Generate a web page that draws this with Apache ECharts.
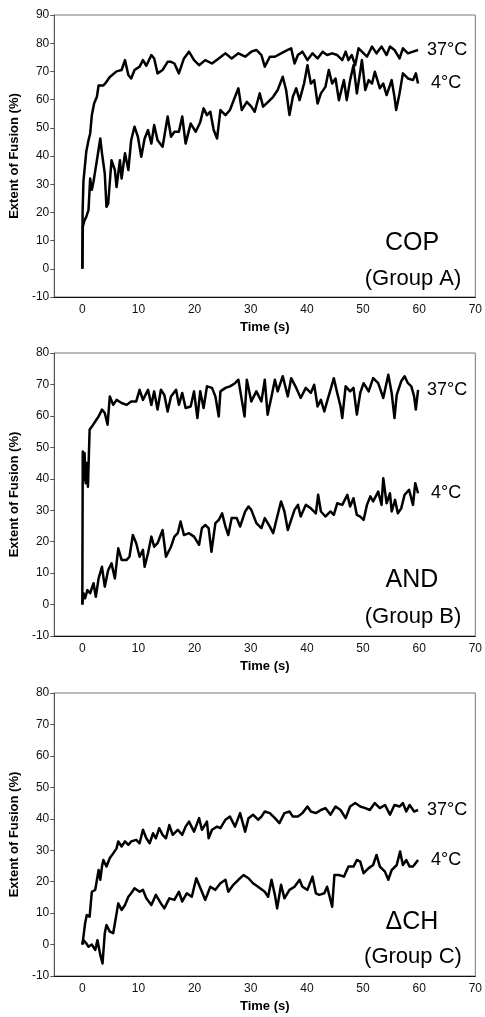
<!DOCTYPE html>
<html>
<head>
<meta charset="utf-8">
<script src="https://cdn.jsdelivr.net/npm/echarts@6/dist/echarts.min.js"></script>
<style>
html,body{margin:0;padding:0;background:#fff;}
#c{width:485px;height:1017px;}
</style>
</head>
<body>
<div id="c"></div>
<script>
// ---- Data: [time (s), extent of fusion (%)] ----
const cop37 = [[0,0],[0.05,20],[0.2,31],[0.7,41.5],[1.1,45.6],[1.4,48],[1.7,54.5],[2.1,58.6],[2.6,61],[2.9,65],[3.75,65],[4.3,66.3],[4.9,68],[6.1,70],[7,70.5],[7.6,74],[8.2,68.7],[8.7,67.5],[9.3,70.5],[10.2,71.7],[10.8,74],[11.4,72],[12.3,75.8],[12.8,74.6],[13.4,69.3],[14.3,70.5],[15.2,73.4],[15.8,73.4],[16.4,72.8],[17.2,69.3],[18.1,74.6],[19,77],[19.9,74],[20.8,72.2],[21.9,74],[23.1,72.8],[24.3,74.6],[25.5,76.4],[26.6,74.6],[27.8,76.4],[29,75.2],[30.1,77],[31,77.6],[31.9,75.8],[32.5,71.7],[33.4,75.2],[34.3,75.2],[35.4,76.4],[36.6,77.6],[37.2,78.2],[37.8,72.8],[38.4,75.8],[39.2,77],[40.1,74],[41,76.4],[41.9,74.6],[42.8,77],[43.6,75.8],[44.5,76.4],[45.4,75.8],[46.3,74],[46.9,77],[47.4,74],[48,75.8],[48.6,72.2],[49.2,78.2],[49.8,77],[50.7,75.2],[51.6,78.8],[52.4,76.4],[53.3,78.8],[54.2,75.8],[54.8,78.8],[55.6,77.6],[56.5,74.6],[57.1,78.2],[58,76.4],[58.9,77],[59.8,77.6]];
const cop4 = [[0,0],[0.1,15],[0.35,17],[0.7,18.4],[1.1,20.8],[1.4,32],[1.7,28],[2,31],[2.6,38.5],[3.2,46.2],[3.5,41],[4,33.8],[4.3,22],[4.6,23],[5.2,38.5],[5.8,35],[6.1,29],[6.7,38.5],[7,32],[7.6,41],[8.2,35],[8.7,45.6],[9.3,50.4],[9.9,46.8],[10.5,39.7],[11.1,46.2],[11.7,49.2],[12.3,44.4],[12.8,51],[13.4,45.6],[14.3,43.3],[15.2,54],[15.8,46.8],[16.4,48.6],[17.2,48.6],[17.8,54],[18.4,44.4],[19.3,51.5],[20.2,48.6],[21,52],[21.6,56.9],[22.2,54.5],[22.8,55.7],[23.4,49.2],[24,46.2],[24.6,56.3],[25.5,54.5],[26.3,56.3],[27.2,61],[27.8,64],[28.4,56.3],[29.3,59.2],[30.1,57.5],[30.7,55.7],[31.6,62.2],[32.2,57.5],[33.1,59.2],[34,61],[34.8,63.4],[35.7,68.1],[36.3,63.4],[36.9,54.5],[37.5,61],[38.1,64],[38.7,59.8],[39.5,65.7],[40.1,72.2],[40.7,65.7],[41.3,66.9],[41.9,58.6],[42.5,62.2],[43.3,64.5],[43.9,70.5],[44.5,65.7],[45.1,67.5],[45.7,59.8],[46.6,66.9],[47.1,59.8],[47.7,66.9],[48.3,72.2],[48.9,62.2],[49.5,69.9],[49.8,74],[50.4,63.4],[51,66.9],[51.6,65.7],[52.1,69.9],[53,64],[53.6,65.7],[54.2,61.6],[55.1,66.9],[55.6,60.9],[55.9,56.3],[56.5,62.2],[57.1,69.3],[58,67.5],[58.9,66.9],[59.4,69.3],[59.8,65.7]];
const and37 = [[0,0],[0.08,48.7],[0.2,39.7],[0.4,48.2],[0.6,38.6],[0.8,45],[1,37.5],[1.3,55.6],[1.7,56.6],[2.3,58.2],[2.9,59.8],[3.5,62],[4,60.9],[4.5,57.2],[4.9,66.2],[5.5,63.5],[6.1,65.1],[7,64.1],[7.9,63.5],[8.7,64.6],[9.6,64.6],[10.2,68.3],[10.8,65.1],[11.7,68.3],[12.3,63.5],[12.8,67.8],[13.4,62],[14,68.3],[14.6,66.7],[15.2,61.4],[15.8,66.2],[16.7,68.3],[17.2,63.5],[17.8,67.3],[18.4,62.5],[19.3,63],[19.9,67.8],[20.5,59.3],[21,67.8],[21.6,62.5],[22.2,69.4],[23.1,68.9],[23.7,66.2],[24.3,59.8],[24.6,67.8],[25.5,68.9],[26.3,69.4],[27.2,70.4],[27.8,71.5],[28.4,65.1],[28.9,59.8],[29.3,71.5],[30.1,64.6],[31,67.8],[31.9,64.6],[32.5,71.5],[33,60.4],[33.7,66.2],[34.3,71.5],[34.8,67.8],[35.7,72.6],[36.6,66.2],[37.2,72],[38.1,68.9],[38.9,65.7],[39.8,68.9],[40.7,67.3],[41.3,69.9],[41.9,63],[42.5,65.1],[43.1,61.4],[43.6,64.6],[44.2,68.3],[44.8,72],[45.4,67.3],[46,63],[46.3,59.3],[46.9,69.4],[47.7,67.8],[48.3,68.9],[48.9,60.4],[49.5,67.3],[50.1,70.4],[51,67.8],[51.8,72],[52.7,70.4],[53.6,65.7],[54.5,73.1],[55.1,67.3],[55.6,59.3],[56,66.7],[56.8,71],[57.4,72.6],[58,70.4],[58.6,69.4],[59.1,66.2],[59.4,62],[59.8,68.3]];
const and4 = [[0,0],[0.2,3.6],[0.5,2],[0.9,4.6],[1.4,3.6],[2,6.8],[2.4,2.5],[2.9,8.3],[3.5,12],[4,5.7],[4.6,10.9],[5.2,13.1],[5.8,8.3],[6.4,17.9],[7,14.2],[7.9,14.2],[8.4,15.2],[9,22.1],[9.6,19.5],[10.2,15.2],[10.8,17.4],[11.1,12],[11.7,16.3],[12.3,21.6],[12.8,18.4],[13.4,19.5],[14.3,23.7],[14.9,15.2],[15.8,18.4],[16.4,21.6],[17,22.7],[17.5,26.4],[18.1,22.1],[19,22.7],[19.9,21.6],[20.8,19],[21.3,24.3],[21.9,25.3],[22.5,24.3],[23,16.8],[23.7,25.9],[24.3,26.9],[24.9,29],[25.5,24.8],[26,22.1],[26.6,27.5],[27.5,27.5],[28.1,24.8],[29,29.6],[29.6,31.2],[30.1,30.1],[31,25.9],[31.9,24.3],[32.5,27.5],[33.4,24.8],[34,22.7],[34.5,26.4],[35.4,32.8],[36,29.6],[36.6,23.7],[37.2,26.9],[37.8,30.1],[38.4,31.7],[38.9,28],[39.8,31.7],[40.7,30.6],[41.6,29],[42,34.9],[42.5,29.6],[43.3,28],[44.2,29.6],[44.8,28.5],[45.4,32.2],[46.3,31.7],[47.2,34.9],[47.7,31.2],[48.3,33.8],[48.9,28.5],[49.5,28],[50.1,26.9],[50.7,31.7],[51.3,34.4],[51.8,32.8],[52.7,35.9],[53.3,31.7],[53.6,40.2],[54.2,32.2],[54.8,35.4],[55.1,29.6],[55.7,33.3],[56.2,29],[56.8,30.6],[57.4,34.9],[58.2,36.5],[58.9,31.7],[59.3,38.6],[59.8,35.4]];
const dch37 = [[0,0],[0.2,2.5],[0.5,6.8],[0.8,9.4],[1.3,8.9],[1.7,16.8],[2.3,17.4],[2.9,23.7],[3.2,20.6],[3.5,24.8],[3.75,26.9],[4.3,24.8],[4.9,27.5],[5.5,29],[6.1,30.6],[6.4,32.8],[7,31.2],[7.6,32.8],[8.2,31.7],[8.7,32.8],[9.6,33.3],[10.2,32.2],[10.8,36.5],[11.4,33.8],[12,32.2],[12.6,35.4],[13.1,33.8],[13.7,37],[14.3,34.9],[14.9,33.8],[15.5,38],[16.1,34.9],[17,36.5],[17.8,34.9],[18.4,37.5],[19,39.1],[19.9,35.9],[20.8,40.2],[21.3,36.5],[22.2,39.1],[22.5,33.8],[23.1,36.5],[24,37.5],[24.6,37],[25.5,39.7],[26.3,40.7],[27.2,37.5],[28.1,41.8],[29,35.9],[29.6,40.2],[30.4,41.3],[31.3,39.7],[31.9,40.7],[32.5,42.3],[33.4,41.8],[34.3,40.2],[35.1,38.6],[36,41.8],[36.9,42.3],[37.5,40.7],[38.4,40.7],[39.2,41.8],[40.1,43.9],[40.7,42.3],[41.6,41.8],[42.5,42.8],[43.3,43.4],[44.2,41.3],[45.1,43.9],[46,42.8],[46.9,40.2],[47.7,43.9],[48.6,45],[49.5,43.9],[50.4,43.4],[51.2,42.8],[52.1,45],[53,43.4],[53.9,44.4],[54.8,41.3],[55.6,44.4],[56.5,43.9],[57.1,45],[57.7,42.3],[58.3,44.4],[59.1,42.3],[59.8,42.8]];
const dch4 = [[0,0],[0.2,1.4],[0.7,0.4],[1.1,-0.7],[1.7,0],[2.3,-1.7],[2.7,1.4],[3.2,-3.3],[3.6,-6],[4,3.6],[4.3,6.2],[4.9,4.1],[5.5,3.6],[6.1,9.9],[6.4,13.1],[7,11],[7.6,12.6],[8.2,15.2],[8.7,16.3],[9.3,17.9],[10.2,16.8],[10.8,17.4],[11.4,14.7],[12.3,12.6],[13.1,15.8],[14,13.1],[14.6,11.5],[15.5,14.7],[16.4,14.2],[17.2,16.8],[17.8,13.7],[18.6,16.3],[19.5,15.2],[20.3,21.1],[21.3,16.8],[21.9,14.2],[22.8,18.4],[23.7,17.4],[24.6,19.5],[25.5,20.6],[26,16.8],[26.9,19],[27.8,20.6],[28.7,22.1],[29.6,21.1],[30.4,19.5],[31.3,18.4],[32.5,16.8],[33.1,15.2],[33.7,20.6],[34.3,15.8],[34.7,11.5],[35.4,19],[36,14.7],[36.9,17.4],[37.8,18.4],[38.7,20.6],[39.2,18.4],[40.1,17.4],[41,21.6],[41.6,16.3],[42.2,15.8],[43.1,16.3],[43.6,18.4],[44.2,14.2],[44.5,12],[44.9,22.1],[45.7,22.1],[46.6,21.6],[47.4,24.8],[48.3,24.8],[48.9,26.9],[49.5,26.4],[50.1,22.7],[51,24.3],[51.8,25.3],[52.4,28.5],[53,24.8],[53.9,23.2],[54.5,20.6],[55.1,23.7],[56,25.3],[56.6,29.6],[57.1,25.3],[57.7,26.9],[58.3,24.8],[58.9,24.8],[59.8,26.9]];

const xRange = [-5, 70];
const yRanges = [[-10, 90], [-10, 80], [-10, 80]];
const seriesLabels = ['37°C', '4°C'];
const panelNames = [['COP', '(Group A)'], ['AND', '(Group B)'], ['\u0394CH', '(Group C)']];
const panelData = [[cop37, cop4], [and37, and4], [dch37, dch4]];
const xTitle = 'Time (s)';
const yTitle = 'Extent of Fusion (%)';

// ---- Layout ----
const FONT = '"Liberation Sans", Arial, Helvetica, sans-serif';
const grids = [
  {left: 53, top: 15, width: 426, height: 282},
  {left: 53, top: 353, width: 426, height: 283},
  {left: 53, top: 693, width: 426, height: 283}
];
const textPos = [[243, 279], [580, 617], [922, 957]];

const option = {
  animation: false,
  backgroundColor: '#fff',
  textStyle: {fontFamily: FONT},
  grid: grids.map(g => Object.assign({show: true, borderColor: '#777', borderWidth: 1, backgroundColor: 'transparent'}, g)),
  xAxis: grids.map((g, i) => ({
    type: 'value', gridIndex: i, min: xRange[0], max: xRange[1], interval: 5,
    name: xTitle, nameLocation: 'middle', nameGap: 24,
    nameTextStyle: {fontFamily: FONT, fontSize: 13, fontWeight: 'bold', color: '#000'},
    axisLine: {onZero: false, lineStyle: {color: '#111', width: 1}},
    axisTick: {show: false},
    splitLine: {show: false},
    axisLabel: {fontFamily: FONT, fontSize: 12, color: '#111', margin: 7,
      formatter: v => (v % 10 === 0 ? String(v) : '')}
  })),
  yAxis: grids.map((g, i) => ({
    type: 'value', gridIndex: i, min: yRanges[i][0], max: yRanges[i][1], interval: 10,
    name: yTitle, nameLocation: 'middle', nameGap: 26, nameRotate: 90,
    nameTextStyle: {fontFamily: FONT, fontSize: 13, fontWeight: 'bold', color: '#000'},
    axisLine: {show: true, onZero: false, lineStyle: {color: '#555', width: 1}},
    axisTick: {show: true, inside: false, length: 4, lineStyle: {color: '#555'}},
    splitLine: {show: false},
    axisLabel: {fontFamily: FONT, fontSize: 12, color: '#111', margin: 5}
  })),
  series: [],
  graphic: []
};

panelData.forEach((pair, i) => {
  pair.forEach((d, j) => {
    option.series.push({
      type: 'line', xAxisIndex: i, yAxisIndex: i, data: d,
      showSymbol: false, symbol: 'none', smooth: false,
      lineStyle: {color: '#000', width: 2.5, join: 'round'},
      endLabel: {show: true, formatter: seriesLabels[j], fontFamily: FONT, fontSize: 18,
        color: '#000', distance: j === 0 ? 9 : 13}
    });
  });
  option.graphic.push({
    type: 'text', x: 412, y: textPos[i][0],
    style: {text: panelNames[i][0], font: '25px ' + FONT, fill: '#000', align: 'center', verticalAlign: 'middle'}
  });
  option.graphic.push({
    type: 'text', x: 413, y: textPos[i][1],
    style: {text: panelNames[i][1], font: '22px ' + FONT, fill: '#000', align: 'center', verticalAlign: 'middle'}
  });
});

const chart = echarts.init(document.getElementById('c'), null, {renderer: 'canvas'});
chart.setOption(option);
</script>
</body>
</html>
